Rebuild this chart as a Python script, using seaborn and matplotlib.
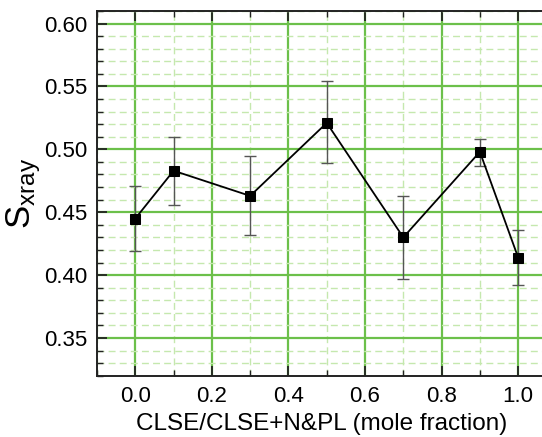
import matplotlib
matplotlib.use("Agg")
import matplotlib.pyplot as plt
from matplotlib.ticker import MultipleLocator, FormatStrFormatter
import seaborn as sns
import pandas as pd

# data
mole_fraction = [0.0, 0.1, 0.3, 0.5, 0.7, 0.9, 1.0]
s_xray = [0.445, 0.483, 0.463, 0.521, 0.430, 0.498, 0.414]
err_low = [0.026, 0.027, 0.031, 0.032, 0.033, 0.011, 0.022]
err_high = [0.026, 0.027, 0.032, 0.033, 0.033, 0.010, 0.022]

df = pd.DataFrame({"x": mole_fraction, "y": s_xray})

sns.set_style("ticks")
plt.rcParams["font.family"] = ["Liberation Sans", "DejaVu Sans"]
plt.rcParams["mathtext.default"] = "regular"
plt.rcParams["text.color"] = "black"
plt.rcParams["axes.labelcolor"] = "black"
plt.rcParams["xtick.color"] = "#222222"
plt.rcParams["ytick.color"] = "#222222"
plt.rcParams["xtick.labelcolor"] = "black"
plt.rcParams["ytick.labelcolor"] = "black"

fig = plt.figure(figsize=(5.42, 4.37), dpi=100)
ax = fig.add_axes([0.179, 0.14, 0.83, 0.835])

# grid
ax.xaxis.set_major_locator(MultipleLocator(0.2))
ax.xaxis.set_minor_locator(MultipleLocator(0.1))
ax.yaxis.set_major_locator(MultipleLocator(0.05))
ax.yaxis.set_minor_locator(MultipleLocator(0.01))
ax.grid(which="major", color="#6cc04a", lw=1.6, ls="-", zorder=0)
ax.grid(which="minor", color="#c5e8ae", lw=1.0, ls=(0, (5, 3)), zorder=0)
ax.set_axisbelow(True)

ax.errorbar(mole_fraction, s_xray, yerr=[err_low, err_high], fmt="none",
            ecolor="#555555", elinewidth=1.0, capsize=4, capthick=1.0, zorder=2)
sns.lineplot(data=df, x="x", y="y", ax=ax, color="black", lw=1.3,
             marker="s", markersize=7, markeredgecolor="black", zorder=3)

ax.set_xlim(-0.1, 1.075)
ax.set_ylim(0.32, 0.61)
ax.yaxis.set_major_formatter(FormatStrFormatter("%.2f"))
ax.xaxis.set_major_formatter(FormatStrFormatter("%.1f"))

ax.tick_params(which="major", direction="in", length=7, width=1.3, labelsize=16,
               top=True, bottom=True, left=True, right=False, pad=7)
ax.tick_params(which="minor", direction="in", length=4, width=1.0,
               top=True, bottom=True, left=True, right=False)
for side in ["left", "bottom", "top"]:
    ax.spines[side].set_linewidth(1.4)
    ax.spines[side].set_color("#222222")
ax.spines["right"].set_visible(False)

ax.set_xlabel("CLSE/CLSE+N&PL (mole fraction)", fontsize=17.5, labelpad=5)
ax.set_ylabel("S$_{xray}$", fontsize=25, labelpad=1)

fig.savefig("out.png", dpi=100)
